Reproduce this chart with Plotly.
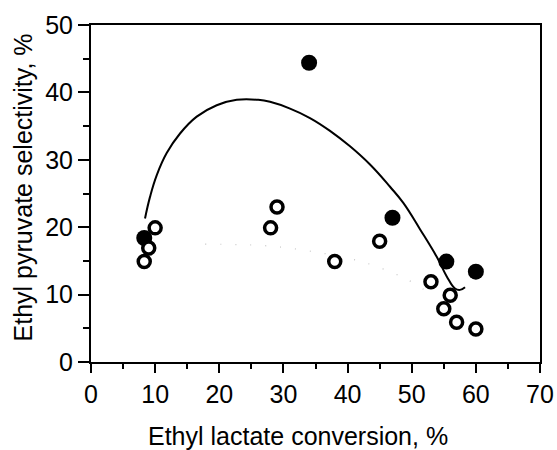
import plotly.graph_objects as go

# Filled circles
filled_x = [8.3, 34.0, 47.0, 55.4, 60.0]
filled_y = [18.4, 44.4, 21.4, 14.9, 13.4]

# Open circles
open_x = [10.0, 9.0, 8.3, 28.0, 29.0, 38.0, 45.0, 53.0, 56.0, 55.0, 57.0, 60.0]
open_y = [19.9, 16.9, 14.9, 19.9, 23.0, 14.9, 17.9, 11.9, 9.9, 7.9, 5.9, 4.9]

# Solid trend curve (read points)
curve_x = [8.42, 9.20, 10.24, 11.80, 13.88, 16.48, 19.60, 22.72, 26.08, 27.91, 31.03,
           34.14, 37.26, 40.38, 43.50, 46.62, 48.69, 51.29, 53.90, 55.46, 56.75, 57.53, 58.31]
curve_y = [21.3, 24.5, 27.7, 31.0, 33.9, 36.4, 38.1, 38.9, 38.9, 38.6, 37.6,
           36.2, 34.3, 32.0, 29.3, 26.0, 23.6, 19.7, 15.6, 12.7, 10.9, 10.7, 11.1]

# Dotted trend curve (read points)
dot_x = [17.8, 26.4, 30.9, 35.7, 40.1, 43.5, 47.1, 49.2, 51.8, 53.4]
dot_y = [17.5, 17.3, 16.9, 16.2, 15.4, 14.5, 13.2, 12.3, 10.8, 9.7]

x_ticks = [0, 10, 20, 30, 40, 50, 60, 70]
y_ticks = [0, 10, 20, 30, 40, 50]

x_title = "Ethyl lactate conversion, %"
y_title = "Ethyl pyruvate selectivity, %"

fig = go.Figure()
fig.add_trace(go.Scatter(x=dot_x, y=dot_y, mode="lines", line_shape="spline",
                         line=dict(color="#c4c4c4", width=1.2, dash="1px,14px"), showlegend=False))
fig.add_trace(go.Scatter(x=curve_x, y=curve_y, mode="lines", line_shape="spline",
                         line=dict(color="black", width=2, smoothing=1.2), showlegend=False))
fig.add_trace(go.Scatter(x=filled_x, y=filled_y, mode="markers",
                         marker=dict(size=16, color="black", line=dict(width=0)), showlegend=False))
fig.add_trace(go.Scatter(x=open_x, y=open_y, mode="markers",
                         marker=dict(size=12, color="white", line=dict(width=3.5, color="black")),
                         showlegend=False))

font = "Liberation Sans, Arial, sans-serif"
fs = 25
fig.update_layout(
    width=557, height=450,
    margin=dict(l=91, r=17, t=25, b=88),
    paper_bgcolor="white", plot_bgcolor="white",
    font=dict(family=font, size=fs, color="black"),
    annotations=[
        dict(text=x_title, xref="paper", yref="paper", x=0.461, y=(362 - 436) / 337,
             xanchor="center", yanchor="middle", showarrow=False, font=dict(size=fs)),
        dict(text=y_title, xref="paper", yref="paper", x=(23 - 91) / 449, y=0.518,
             xanchor="center", yanchor="middle", showarrow=False, textangle=-90,
             font=dict(size=fs)),
    ],
)
fig.update_xaxes(range=[0, 70], tickvals=x_ticks, showgrid=False, zeroline=False,
                 automargin=False,
                 showline=True, linecolor="black", linewidth=2, mirror=True,
                 ticks="outside", ticklen=9, tickwidth=2, tickcolor="black",
                 minor=dict(dtick=5, ticks="outside", ticklen=5, tickwidth=1.5, tickcolor="black"),
                 tickfont=dict(size=fs))
fig.update_yaxes(range=[0, 50], tickvals=y_ticks, showgrid=False, zeroline=False,
                 automargin=False,
                 showline=True, linecolor="black", linewidth=2, mirror=True,
                 ticks="outside", ticklen=11, tickwidth=2, tickcolor="black",
                 minor=dict(dtick=5, ticks="outside", ticklen=6, tickwidth=1.5, tickcolor="black"),
                 tickfont=dict(size=fs))
fig.write_html("out.html")
